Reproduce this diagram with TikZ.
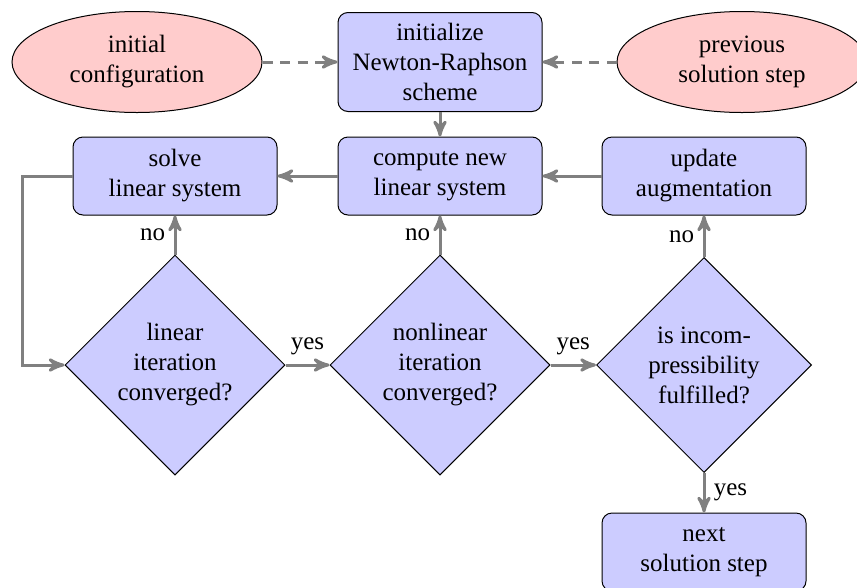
\documentclass[tikz,border=0pt]{standalone}
\usepackage{fontspec}
\setmainfont{LiberationSerif}[Extension=.ttf,UprightFont=*-Regular,BoldFont=*-Bold,ItalicFont=*-Italic,BoldItalicFont=*-BoldItalic]
\usetikzlibrary{shapes.geometric,arrows}
\begin{document}
\begin{tikzpicture}[x=0.4pt,y=-0.4pt,
  blockbox/.style={draw,fill=blue!20,rounded corners=4pt,align=center,minimum width=81.6pt,minimum height=31.2pt,inner sep=0pt},
  startell/.style={draw,fill=red!20,ellipse,align=center,minimum width=100pt,minimum height=40.4pt,inner sep=0pt},
  decide/.style={draw,fill=blue!20,diamond,align=center,aspect=1,minimum size=88pt,inner sep=0pt},
  conn/.style={draw=gray,very thick,-stealth'},
  dconn/.style={conn,dash pattern=on 4pt off 3pt}]
\useasboundingbox (0,0) rectangle (857,587);
\node[startell] (ic) at (137,62) {initial\\configuration};
\node[blockbox,minimum height=39.6pt] (init) at (440,62) {initialize\\Newton-Raphson\\scheme};
\node[startell] (prev) at (742,62) {previous\\solution step};
\node[blockbox] (solve) at (175,176) {solve\\linear system};
\node[blockbox] (comp) at (440,176) {compute new\\linear system};
\node[blockbox] (upd) at (704,176) {update\\augmentation};
\node[decide] (d1) at (175,365) {linear\\iteration\\converged?};
\node[decide] (d2) at (440,365) {nonlinear\\iteration\\converged?};
\node[decide,minimum size=86pt] (d3) at (704,365) {is incom-\\pressibility\\fulfilled?};
\node[blockbox] (next) at (704,552) {next\\solution step};
\coordinate (lc) at (22,176);
\draw[dconn] (ic) -- (init);
\draw[dconn] (prev) -- (init);
\draw[conn] (init) -- (comp);
\draw[conn] (comp) -- (solve);
\draw[conn] (upd) -- (comp);
\draw[conn] (solve.west) -- (lc) |- (d1.west);
\draw[conn] (d1.north) -- node[left] {no} (solve.south);
\draw[conn] (d2.north) -- node[left] {no} (comp.south);
\draw[conn] (d3.north) -- node[left] {no} (upd.south);
\draw[conn] (d1.east) -- node[above] {yes} (d2.west);
\draw[conn] (d2.east) -- node[above] {yes} (d3.west);
\draw[conn] (d3.south) -- node[right] {yes} (next.north);
\end{tikzpicture}
\end{document}
